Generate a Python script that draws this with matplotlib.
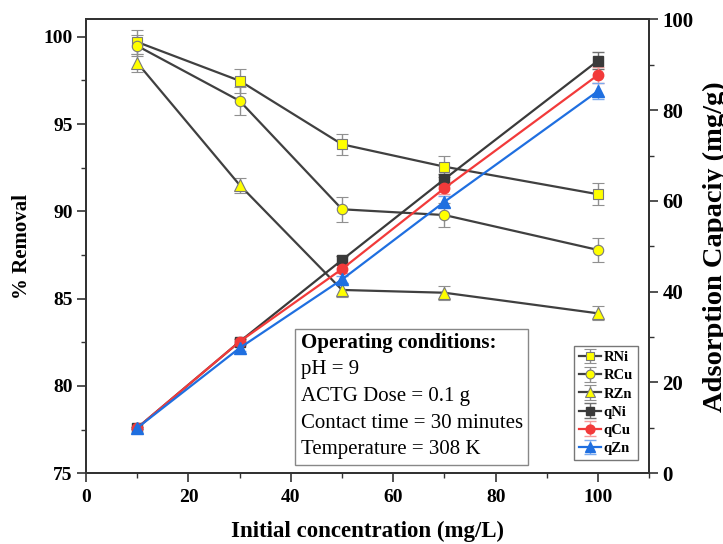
import matplotlib.pyplot as plt
from matplotlib.ticker import MultipleLocator

plt.rcParams['font.family'] = ['Liberation Serif', 'DejaVu Serif']

conc = [10, 30, 50, 70, 100]

# % removal (left axis)
r_ni = [99.7, 97.48, 93.84, 92.56, 90.98]
r_cu = [99.48, 96.33, 90.12, 89.79, 87.79]
r_zn = [98.51, 91.51, 85.5, 85.34, 84.16]
r_ni_err = [0.67, 0.7, 0.6, 0.6, 0.62]
r_cu_err = [0.6, 0.8, 0.7, 0.7, 0.7]
r_zn_err = [0.5, 0.43, 0.4, 0.4, 0.4]

# adsorption capacity (right axis)
q_ni = [10.0, 29.0, 47.0, 64.8, 90.9]
q_cu = [10.0, 29.0, 45.0, 62.8, 87.75]
q_zn = [10.0, 27.6, 42.7, 59.8, 84.2]
q_ni_err = [0.3, 0.6, 0.8, 1.2, 1.8]
q_cu_err = [0.3, 0.6, 0.8, 1.2, 1.8]
q_zn_err = [0.3, 0.6, 0.8, 1.2, 1.8]

box_title = 'Operating conditions:'
box_lines = ['pH = 9', 'ACTG Dose = 0.1 g', 'Contact time = 30 minutes',
             'Temperature = 308 K']

fig = plt.figure(figsize=(7.23, 5.44), dpi=100)
ax = fig.add_axes([0.119, 0.13, 0.779, 0.8345])
ax2 = ax.twinx()

dark = '#404040'
ebar = dict(ecolor='#909090', elinewidth=1.0, capsize=4, capthick=1.0)

h1 = ax.errorbar(conc, r_ni, yerr=r_ni_err, color=dark, lw=1.6, marker='s', ms=6.5,
                 mfc='#ffff00', mec='#7a7a7a', mew=0.8, label='RNi', **ebar)
h2 = ax.errorbar(conc, r_cu, yerr=r_cu_err, color=dark, lw=1.6, marker='o', ms=7.5,
                 mfc='#ffff00', mec='#7a7a7a', mew=0.8, label='RCu', **ebar)
h3 = ax.errorbar(conc, r_zn, yerr=r_zn_err, color=dark, lw=1.6, marker='^', ms=8,
                 mfc='#ffff00', mec='#7a7a7a', mew=0.8, label='RZn', **ebar)

h4 = ax2.errorbar(conc, q_ni, yerr=q_ni_err, color='#3a3a3a', lw=1.6, marker='s', ms=6.5,
                  ecolor='#707070', elinewidth=1.0, capsize=4, label='qNi')
h5 = ax2.errorbar(conc, q_cu, yerr=q_cu_err, color='#f23a3a', lw=1.6, marker='o', ms=7.5,
                  ecolor='#f59a9a', elinewidth=1.0, capsize=4, label='qCu')
h6 = ax2.errorbar(conc, q_zn, yerr=q_zn_err, color='#1f6fe0', lw=1.6, marker='^', ms=8,
                  ecolor='#7aaaf0', elinewidth=1.0, capsize=4, label='qZn')

ax.set_xlim(0, 110)
ax.set_ylim(75, 101)
ax2.set_ylim(0, 100)

ax.xaxis.set_major_locator(MultipleLocator(20))
ax.xaxis.set_minor_locator(MultipleLocator(10))
ax.yaxis.set_major_locator(MultipleLocator(5))
ax.yaxis.set_minor_locator(MultipleLocator(2.5))
ax2.yaxis.set_major_locator(MultipleLocator(20))
ax2.yaxis.set_minor_locator(MultipleLocator(10))

for a, size in ((ax, 14), (ax2, 15)):
    a.tick_params(which='major', direction='out', length=6.5, width=1.2,
                  labelsize=size, color='#333333', pad=3)
    a.tick_params(which='minor', direction='out', length=3.6, width=1.0,
                  color='#333333')
    for lab in a.get_xticklabels() + a.get_yticklabels():
        lab.set_fontweight('bold')
    for sp in a.spines.values():
        sp.set_linewidth(1.4)
        sp.set_color('#333333')
ax.tick_params(axis='x', which='major', pad=5)

ax.set_xlabel('Initial concentration (mg/L)', fontsize=16.5, fontweight='bold')
ax.xaxis.set_label_coords(0.5, -0.105)
ax.set_ylabel('% Removal', fontsize=15, fontweight='bold')
ax.yaxis.set_label_coords(-0.096, 0.5)
ax2.set_ylabel('Adsorption Capaciy (mg/g)', fontsize=20.5, fontweight='bold')
ax2.yaxis.set_label_coords(1.095, 0.5)

# operating-conditions box
box = plt.Rectangle((0.3717, 0.0185), 0.4123, 0.2995, transform=ax.transAxes,
                    facecolor='white', edgecolor='#888888', lw=1.0, zorder=5)
ax.add_patch(box)
ax.text(0.381, 0.287, box_title, transform=ax.transAxes, fontsize=15,
        fontweight='bold', va='center', ha='left', zorder=6)
for i, line in enumerate(box_lines):
    ax.text(0.381, 0.228 - i * 0.0588, line, transform=ax.transAxes, fontsize=15,
            va='center', ha='left', zorder=6)

handles = [h1, h2, h3, h4, h5, h6]
leg = ax2.legend(handles, [h.get_label() for h in handles], loc='lower right',
                 bbox_to_anchor=(0.98, 0.029), frameon=True, fancybox=False,
                 edgecolor='#555555', prop={'weight': 'bold', 'size': 10.5},
                 handlelength=1.5, handletextpad=0.2, labelspacing=0.34,
                 borderpad=0.35, borderaxespad=0.0, markerscale=0.85)
leg.get_frame().set_linewidth(1.0)

fig.savefig('out.png', dpi=100)
